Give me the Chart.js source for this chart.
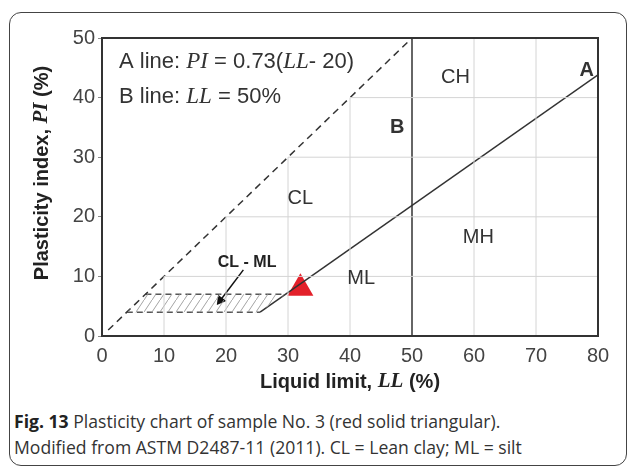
<!DOCTYPE html>
<html lang="en">
<head>
  <meta charset="UTF-8">
  <title>Plasticity chart</title>
  <script src="https://cdn.jsdelivr.net/npm/chart.js"></script>
  <style>
    body { margin: 0; background: #fff; font-family: "Liberation Sans", Arial, sans-serif; }
    #frame { position: absolute; left: 9px; top: 12px; width: 616px; height: 452px;
             border: 1.5px solid #444; border-radius: 12px; }
    #wrap { position: absolute; left: 0; top: 0; width: 630px; height: 400px; }
    #caption { position: absolute; left: 14px; top: 408px; width: 612px;
               font-family: "Open Sans", sans-serif; font-size: 17.6px; line-height: 26px; color: #333;
               white-space: nowrap; }
    #caption b { color: #222; }
  </style>
</head>
<body>
  <div id="frame"></div>
  <div id="wrap"><canvas id="plasticity" width="630" height="400"></canvas></div>
  <div id="caption">
    <b>Fig. 13</b> Plasticity chart of sample No. 3 (red solid triangular).<br>
    Modified from ASTM D2487-11 (2011). CL = Lean clay; ML = silt
  </div>

  <script>
    // axis ticks
    const xTicks = [0, 10, 20, 30, 40, 50, 60, 70, 80];
    const yTicks = [0, 10, 20, 30, 40, 50];

    // chart lines (LL, PI)
    const uLine = [[1, 1], [50, 50]];
    const aLine = [[25.5, 4], [80, 43.8]];
    const bLine = [[50, 0], [50, 50]];
    const clmlTop = [[7, 7], [29.6, 7]];
    const clmlBottom = [[4, 4], [25.5, 4]];
    const clmlZone = [[4, 4], [25.5, 4], [29.6, 7], [7, 7], [4, 4]];
    const arrowLine = [[22.8, 11.1], [19.1, 6.0]];
    const arrowHead = [[19.1, 6.0]];
    const sample = [[32, 8]];

    // zone labels: text, LL, PI, bold
    const zoneLabels = [
      ['CH', 57, 43.3, false],
      ['A', 78.2, 44.6, true],
      ['B', 47.6, 35, true],
      ['CL', 32, 23, false],
      ['MH', 60.7, 16.6, false],
      ['ML', 41.8, 9.7, false]
    ];

    const SANS = '"Liberation Sans", Arial, sans-serif';
    const SERIF = '"Liberation Serif", "Times New Roman", serif';

    const pts = arr => arr.map(p => ({ x: p[0], y: p[1] }));

    // hatch pattern for the CL-ML zone
    function hatchPattern() {
      const c = document.createElement('canvas');
      c.width = 8; c.height = 12;
      const g = c.getContext('2d');
      g.strokeStyle = '#9a9a9a';
      g.lineWidth = 0.9;
      g.beginPath();
      g.moveTo(-1, 13.5); g.lineTo(9, -1.5);
      g.stroke();
      return g.createPattern(c, 'repeat');
    }

    // grid segments only below the dashed line
    const gridSets = [];
    xTicks.filter(t => t > 0 && t < 80 && t !== 50).forEach(t => {
      gridSets.push([[t, 0], [t, Math.min(t, 50)]]);
    });
    yTicks.filter(t => t > 0 && t < 50).forEach(t => {
      gridSets.push([[t, t], [80, t]]);
    });

    const lineSet = (data, color, width, dash) => ({
      data: pts(data), showLine: true, borderColor: color, borderWidth: width,
      borderDash: dash || [], pointRadius: 0, fill: false
    });

    const datasets = [];
    gridSets.forEach(g => datasets.push(lineSet(g, '#d4d4d4', 1)));
    datasets.push({
      data: pts(clmlZone), showLine: true, borderWidth: 0, borderColor: 'rgba(0,0,0,0)',
      backgroundColor: hatchPattern(), fill: 'shape', pointRadius: 0
    });
    datasets.push(lineSet(uLine, '#333', 1.5, [7, 5]));
    datasets.push(lineSet(clmlTop, '#555', 1.5, [6, 4]));
    datasets.push(lineSet(clmlBottom, '#555', 1.5, [6, 4]));
    datasets.push(lineSet(aLine, '#333', 1.5));
    datasets.push(lineSet(bLine, '#333', 1.5));
    datasets.push(lineSet(arrowLine, '#111', 1.5));
    datasets.push({
      data: pts(arrowHead), pointStyle: 'triangle', pointRadius: 6, rotation: 217,
      backgroundColor: '#111', borderWidth: 0
    });
    datasets.push({
      data: pts(sample), pointStyle: 'triangle', pointRadius: 15,
      backgroundColor: '#e3202a', borderWidth: 0
    });

    // draw text made of several font runs
    function richText(ctx, parts, x, y, align) {
      let w = 0;
      parts.forEach(p => { ctx.font = p[1]; w += ctx.measureText(p[0]).width; });
      let cx = align === 'center' ? x - w / 2 : x;
      ctx.textAlign = 'left';
      ctx.textBaseline = 'middle';
      parts.forEach(p => {
        ctx.font = p[1];
        ctx.fillText(p[0], cx, y);
        cx += ctx.measureText(p[0]).width;
      });
    }

    const textPlugin = {
      id: 'texts',
      afterDatasetsDraw(chart) {
        const { ctx, chartArea: a, scales: { x, y } } = chart;
        ctx.save();
        // frame of plot
        ctx.strokeStyle = '#333';
        ctx.lineWidth = 2;
        ctx.strokeRect(a.left, a.top, a.right - a.left, a.bottom - a.top);

        ctx.fillStyle = '#333';
        const n = '22px ' + SANS, it = 'italic 23px ' + SERIF;
        richText(ctx, [['A line: ', n], ['PI', it], [' = 0.73(', n], ['LL', it], ['- 20)', n]], a.left + 17, 62);
        richText(ctx, [['B line: ', n], ['LL', it], [' = 50%', n]], a.left + 17, 97);

        zoneLabels.forEach(l => {
          ctx.font = (l[3] ? 'bold ' : '') + '20px ' + SANS;
          ctx.textAlign = 'center';
          ctx.textBaseline = 'middle';
          ctx.fillText(l[0], x.getPixelForValue(l[1]), y.getPixelForValue(l[2]));
        });
        ctx.fillStyle = '#222';
        ctx.font = 'bold 16px ' + SANS;
        ctx.fillText('CL - ML', x.getPixelForValue(23.4), y.getPixelForValue(12.4));

        // axis titles
        ctx.fillStyle = '#222';
        const b = 'bold 20px ' + SANS, bi = 'bold italic 21px ' + SERIF;
        richText(ctx, [['Liquid limit, ', b], ['LL', bi], [' (%)', b]], (a.left + a.right) / 2, 382, 'center');
        ctx.save();
        ctx.translate(42, 173);
        ctx.rotate(-Math.PI / 2);
        richText(ctx, [['Plasticity index, ', b], ['PI', bi], [' (%)', b]], 0, 0, 'center');
        ctx.restore();
        ctx.restore();
      }
    };

    const ctx = document.getElementById('plasticity').getContext('2d');
    new Chart(ctx, {
      type: 'scatter',
      data: { datasets: datasets },
      options: {
        responsive: false,
        animation: false,
        layout: { padding: { left: 0, top: 38, right: 32, bottom: 0 } },
        plugins: { legend: { display: false }, tooltip: { enabled: false } },
        scales: {
          x: {
            type: 'linear', min: 0, max: 80,
            afterFit: s => { s.height = 64; },
            afterBuildTicks: s => { s.ticks = xTicks.map(v => ({ value: v })); },
            grid: { display: false },
            border: { display: true, color: '#333', width: 2 },
            ticks: { color: '#444', padding: 0, font: { family: SANS, size: 20 } }
          },
          y: {
            type: 'linear', min: 0, max: 50,
            afterFit: s => { s.width = 102; },
            afterBuildTicks: s => { s.ticks = yTicks.map(v => ({ value: v })); },
            grid: { display: true, drawOnChartArea: false, drawTicks: true, tickLength: 4, color: '#888' },
            border: { display: true, color: '#333', width: 2 },
            ticks: { color: '#444', padding: 3, font: { family: SANS, size: 20 } }
          }
        }
      },
      plugins: [textPlugin]
    });
  </script>
</body>
</html>
